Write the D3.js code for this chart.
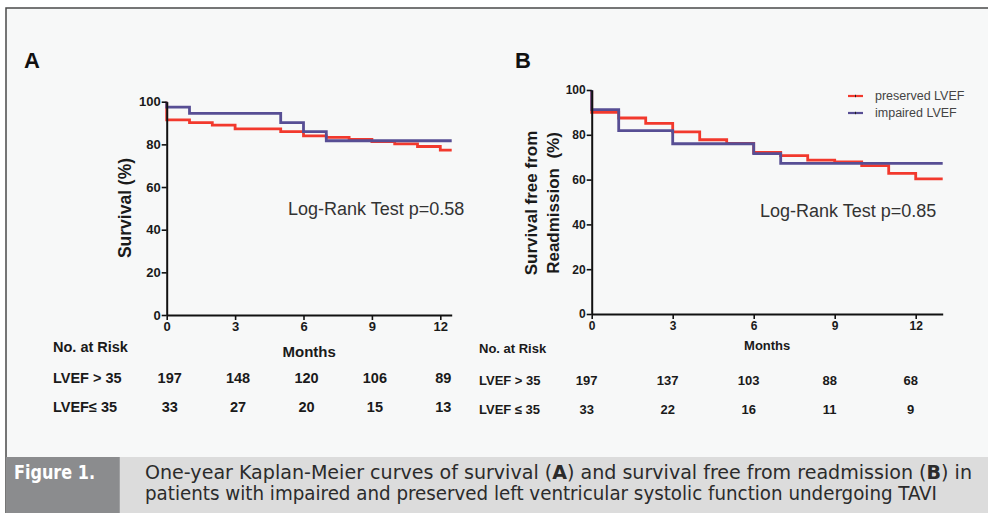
<!DOCTYPE html>
<html>
<head>
	<meta charset="utf-8">
	<title>Figure 1</title>
	<script src="https://d3js.org/d3.v7.min.js"></script>
	<style>
		body { margin: 0; background: #fff; }
		svg { display: block; }
	</style>
</head>
<body>
</body>
<script>
	// ---- data ----
	var monthTicks = [0, 3, 6, 9, 12];
	var survTicks = [0, 20, 40, 60, 80, 100];

	// panel A: survival
	var aPresTime = [0, 0, 1, 2, 3, 5, 6, 7, 8, 9, 10, 11, 12];
	var aPresSurv = [100, 91.5, 90.2, 89, 87.3, 86, 84, 83.3, 82.3, 81.3, 80.2, 79, 77.3];
	var aImpTime = [0, 0, 1, 5, 6, 7];
	var aImpSurv = [100, 97.5, 94.5, 90.2, 86, 81.7];
	var aRiskHigh = [197, 148, 120, 106, 89];
	var aRiskLow = [33, 27, 20, 15, 13];

	// panel B: survival free from readmission
	var bPresTime = [0, 0, 1, 2, 3, 4, 5, 6, 7, 8, 9, 10, 11, 12];
	var bPresSurv = [100, 90, 87.5, 85.1, 81.3, 77.8, 76.2, 72.1, 70.7, 68.7, 67.9, 66.2, 62.8, 60.3];
	var bImpTime = [0, 0, 1, 3, 6, 7];
	var bImpSurv = [100, 91.2, 81.9, 76, 71.6, 67.2];
	var bRiskHigh = [197, 137, 103, 88, 68];
	var bRiskLow = [33, 22, 16, 11, 9];

	var seriesNames = ["preserved LVEF", "impaired LVEF"];
	var red = "#f2392d", blue = "#574e94";
	var font = "'Liberation Sans', Arial, sans-serif";

	var svg = d3.select("body").append("svg").attr("width", 988).attr("height", 513);

	// frame + background
	svg.append("rect").attr("x", 6).attr("y", 8).attr("width", 982).attr("height", 505).attr("fill", "#f7f8f8");
	svg.append("path").attr("d", "M6,513V8H988").attr("fill", "none").attr("stroke", "#4a4a4a").attr("stroke-width", 1.5);

	function steps(times, vals, end) {
		var pts = times.map(function(t, i) { return [t, vals[i]]; });
		pts.push([end, vals[vals.length - 1]]);
		return pts;
	}

	function panel(o) {
		var g = svg.append("g");
		var x = d3.scaleLinear().domain([0, o.xMax]).range(o.xr);
		var y = d3.scaleLinear().domain([0, 100]).range(o.yr);

		var xAxis = d3.axisBottom(x).tickValues(monthTicks).tickSize(5).tickSizeOuter(0).tickPadding(2);
		var yAxis = d3.axisLeft(y).tickValues(survTicks).tickSize(5).tickSizeOuter(0).tickPadding(1);

		var line = d3.line().x(function(d) { return x(d[0]); }).y(function(d) { return y(d[1]); }).curve(d3.curveStepAfter);

		g.append("path").datum(steps(o.presT, o.presS, o.xMax)).attr("d", line)
			.attr("fill", "none").attr("stroke", red).attr("stroke-width", 2.8);
		g.append("path").datum(steps(o.impT, o.impS, o.xMax)).attr("d", line)
			.attr("fill", "none").attr("stroke", blue).attr("stroke-width", 2.8);

		var xg = g.append("g").attr("transform", "translate(0," + o.yr[0] + ")").call(xAxis);
		var yg = g.append("g").attr("transform", "translate(" + o.xr[0] + ",0)").call(yAxis);
		[xg, yg].forEach(function(a) {
			a.select(".domain").attr("stroke", "#111").attr("stroke-width", 2);
			a.selectAll(".tick line").attr("stroke", "#111").attr("stroke-width", 1.6);
			a.selectAll(".tick text").attr("fill", "#1a1a1a").attr("font-family", font)
				.attr("font-weight", "bold").attr("font-size", o.tickFs);
		});

		// months label
		g.append("text").attr("x", (o.xr[0] + o.xr[1]) / 2).attr("y", o.monthsY).attr("text-anchor", "middle")
			.attr("font-family", font).attr("font-weight", "bold").attr("font-size", o.monthsFs).attr("fill", "#1a1a1a")
			.text("Months");

		// y label
		o.yLabel.forEach(function(s, i) {
			g.append("text").attr("transform", "translate(" + o.yLabelX[i] + "," + o.yLabelY + ") rotate(-90)")
				.attr("text-anchor", "middle").attr("font-family", font).attr("font-weight", "bold")
				.attr("font-size", o.yLabelFs).attr("fill", "#1a1a1a").style("white-space", "pre").text(s);
		});

		// panel letter
		g.append("text").attr("x", o.letterX).attr("y", 68).attr("font-family", font).attr("font-weight", "bold")
			.attr("font-size", 22).attr("fill", "#111").text(o.letter);

		// log-rank
		g.append("text").attr("x", o.lrX).attr("y", o.lrY).attr("font-family", font).attr("font-size", 18)
			.attr("fill", "#333").text(o.lr);

		// number at risk
		var tf = { "font-family": font, "font-weight": "bold", "font-size": o.tableFs, "fill": "#1a1a1a" };
		function txt(xp, yp, s, anchor) {
			var t = g.append("text").attr("x", xp).attr("y", yp).attr("text-anchor", anchor || "start").text(s);
			for (var k in tf) t.attr(k, tf[k]);
		}
		txt(o.tableX, o.riskY[0], "No. at Risk");
		txt(o.tableX, o.riskY[1], "LVEF > 35");
		txt(o.tableX, o.riskY[2], o.lowLabel);
		monthTicks.forEach(function(t, i) {
			txt(x(t) + o.numOff, o.riskY[1], o.riskHigh[i], "middle");
			txt(x(t) + o.numOff, o.riskY[2], o.riskLow[i], "middle");
		});
		return { x: x, y: y, g: g };
	}

	panel({
		xMax: 12.5, xr: [166.7, 451.7], yr: [315, 101.7], tickFs: 13,
		presT: aPresTime, presS: aPresSurv, impT: aImpTime, impS: aImpSurv,
		monthsY: 357, monthsFs: 15,
		yLabel: ["Survival (%)"], yLabelX: [131], yLabelY: 208, yLabelFs: 17.5,
		letter: "A", letterX: 24, lr: "Log-Rank Test p=0.58", lrX: 288, lrY: 215,
		tableX: 53, tableFs: 14.5, riskY: [352, 383, 412], lowLabel: "LVEF\u2264 35",
		riskHigh: aRiskHigh, riskLow: aRiskLow, numOff: 3
	});

	panel({
		xMax: 13, xr: [591.7, 942.7], yr: [314, 90], tickFs: 12,
		presT: bPresTime, presS: bPresSurv, impT: bImpTime, impS: bImpSurv,
		monthsY: 350, monthsFs: 13,
		yLabel: ["Survival free from", "Readmission  (%)"], yLabelX: [537, 559], yLabelY: 203, yLabelFs: 17,
		letter: "B", letterX: 515, lr: "Log-Rank Test p=0.85", lrX: 760, lrY: 217,
		tableX: 479, tableFs: 13, riskY: [353, 385, 414], lowLabel: "LVEF \u2264 35",
		riskHigh: bRiskHigh, riskLow: bRiskLow, numOff: -5
	});

	// legend (panel B)
	var legend = svg.append("g").attr("transform", "translate(848,96)");
	[red, blue].forEach(function(c, i) {
		var row = legend.append("g").attr("transform", "translate(0," + (i * 17) + ")");
		row.append("line").attr("x1", 0).attr("x2", 15).attr("stroke", c).attr("stroke-width", 2.2);
		row.append("line").attr("x1", 7.5).attr("x2", 7.5).attr("y1", -1.2).attr("y2", 1.2).attr("stroke", "#222").attr("stroke-width", 1);
		row.append("text").attr("x", 27).attr("y", 4).attr("font-family", font).attr("font-size", 12.5)
			.attr("fill", "#444").text(seriesNames[i]);
	});

	// caption band
	var cap = svg.append("g");
	cap.append("rect").attr("x", 6.75).attr("y", 457).attr("width", 982).attr("height", 56).attr("fill", "#dcdcdc");
	cap.append("rect").attr("x", 6.75).attr("y", 457).attr("width", 113).attr("height", 56).attr("fill", "#8b8c8e");
	var capFont = "'Liberation Sans Narrow', 'DejaVu Sans Condensed', 'Liberation Sans', sans-serif";
	cap.append("text").attr("x", 14).attr("y", 479).attr("font-family", capFont).attr("font-weight", "bold")
		.attr("font-size", 19).attr("fill", "#fff").attr("textLength", 81).attr("lengthAdjust", "spacingAndGlyphs").text("Figure 1.");
	var l1 = cap.append("text").attr("x", 145).attr("y", 479).attr("font-family", capFont).attr("font-size", 19)
		.attr("fill", "#2b2b2b").attr("textLength", 827).attr("lengthAdjust", "spacingAndGlyphs");
	l1.append("tspan").text("One-year Kaplan-Meier curves of survival (");
	l1.append("tspan").attr("font-weight", "bold").text("A");
	l1.append("tspan").text(") and survival free from readmission (");
	l1.append("tspan").attr("font-weight", "bold").text("B");
	l1.append("tspan").text(") in");
	cap.append("text").attr("x", 145).attr("y", 500).attr("font-family", capFont).attr("font-size", 19)
		.attr("fill", "#2b2b2b").attr("textLength", 792).attr("lengthAdjust", "spacingAndGlyphs")
		.text("patients with impaired and preserved left ventricular systolic function undergoing TAVI");
</script>
</html>
